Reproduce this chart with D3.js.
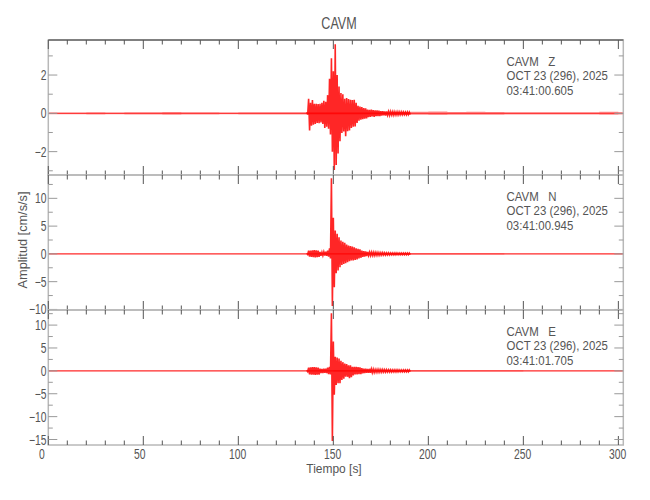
<!DOCTYPE html>
<html>
<head>
<meta charset="utf-8">
<script src="https://cdn.jsdelivr.net/npm/d3@7"></script>
<style>
body{margin:0;background:#fff;}
svg text{font-family:"Liberation Sans",Arial,sans-serif;fill:#555;white-space:pre;}
</style>
</head>
<body>
<svg id="chart" width="650" height="500"></svg>
<script>
var station = 'CAVM';
var components = ['Z', 'N', 'E'];
var dateLabel = 'OCT 23 (296), 2025';
var startTimes = ['03:41:00.605', '03:41:00.945', '03:41:01.705'];

var xMax = 302.6;
var xMajor = [0, 50, 100, 150, 200, 250, 300];
var yDomains = [[-3.22, 3.83], [-10.1, 14.2], [-16.2, 13.3]];
var yMajor = [[-2, 0, 2], [-10, -5, 0, 5, 10], [-15, -10, -5, 0, 5, 10]];
var yMinor = [[-3, -1, 1, 3], [-7.5, -2.5, 2.5, 7.5, 12.5], [-12.5, -7.5, -2.5, 2.5, 7.5, 12.5]];

// strong motion part: max / min of each second, starting at activeStart
var activeStart = 136;
var zHi = [0.06,0.76,0.55,0.70,0.50,0.50,0.48,0.50,0.55,0.66,0.60,0.95,1.80,2.88,2.20,3.61,2.00,1.40,1.06,1.00,
           0.76,0.80,0.75,0.71,0.70,0.71,0.55,0.40,0.36,0.33,0.28,0.26,0.20,0.18,0.20,0.17,0.16,0.15,0.14,0.12,
           0.11,0.10,0.10,0.09,0.09,0.08,0.08,0.07,0.08,0.07,0.07,0.07,0.06,0.07,0.06];
var zLo = [-0.06,-0.89,-0.65,-0.60,-0.55,-0.50,-0.52,-0.48,-0.55,-0.76,-0.70,-0.80,-1.10,-2.00,-2.96,-2.70,-2.10,-1.46,-1.02,-0.95,
           -1.20,-0.94,-0.90,-0.76,-0.70,-0.68,-0.50,-0.38,-0.33,-0.30,-0.28,-0.26,-0.20,-0.18,-0.16,-0.18,-0.15,-0.14,-0.15,-0.12,
           -0.10,-0.11,-0.09,-0.10,-0.08,-0.09,-0.08,-0.08,-0.07,-0.07,-0.07,-0.06,-0.07,-0.06,-0.06];
var nHi = [0.10,0.57,0.60,0.65,0.70,0.65,0.60,0.35,0.30,0.35,0.40,0.60,1.00,13.60,6.50,4.20,3.60,3.00,2.40,2.20,
           2.00,1.70,1.50,1.40,1.30,1.20,1.00,0.90,0.80,0.60,0.50,0.45,0.35,0.30,0.30,0.28,0.26,0.25,0.24,0.22,
           0.22,0.20,0.18,0.18,0.17,0.17,0.16,0.16,0.15,0.15,0.15,0.15,0.14,0.15,0.14];
var nLo = [-0.10,-0.50,-0.55,-0.60,-0.63,-0.60,-0.55,-0.35,-0.30,-0.30,-0.35,-0.50,-0.80,-9.40,-6.00,-3.50,-3.00,-2.40,-2.00,-1.80,
           -1.70,-1.50,-1.30,-1.20,-1.20,-1.10,-1.00,-0.80,-0.70,-0.55,-0.50,-0.40,-0.30,-0.30,-0.28,-0.28,-0.26,-0.25,-0.24,-0.22,
           -0.20,-0.20,-0.18,-0.17,-0.17,-0.16,-0.16,-0.15,-0.15,-0.15,-0.14,-0.15,-0.14,-0.14,-0.14];
var eHi = [0.15,0.70,0.75,0.80,0.80,0.75,0.70,0.50,0.45,0.50,0.50,0.70,0.90,12.60,6.40,3.10,2.90,2.70,2.20,1.90,
           1.60,1.50,1.20,1.20,0.90,0.90,0.85,0.80,0.75,0.60,0.50,0.50,0.45,0.45,0.40,0.35,0.30,0.30,0.30,0.28,
           0.28,0.27,0.26,0.25,0.25,0.22,0.22,0.21,0.21,0.20,0.20,0.20,0.20,0.19,0.19];
var eLo = [-0.15,-0.75,-0.80,-0.85,-0.90,-0.85,-0.80,-0.50,-0.50,-0.45,-0.50,-0.70,-0.80,-15.30,-5.20,-3.10,-2.70,-2.70,-2.00,-1.70,
           -1.25,-1.30,-1.60,-1.40,-1.00,-0.75,-0.75,-0.70,-0.70,-0.55,-0.50,-0.45,-0.45,-0.40,-0.40,-0.35,-0.30,-0.30,-0.28,-0.28,
           -0.27,-0.26,-0.25,-0.25,-0.24,-0.22,-0.22,-0.21,-0.20,-0.20,-0.20,-0.19,-0.20,-0.19,-0.19];

// background noise half width, one value per 10 s from 0 to 300 s
var zNoise = [0.05,0.05,0.06,0.05,0.06,0.06,0.07,0.06,0.06,0.05,0.06,0.06,0.06,0.06,0.06,0.06,
              0.06,0.06,0.07,0.08,0.09,0.07,0.08,0.07,0.06,0.06,0.06,0.06,0.06,0.08,0.06];
var nNoise = [0.12,0.12,0.12,0.12,0.12,0.12,0.12,0.12,0.12,0.12,0.12,0.12,0.12,0.12,0.12,0.12,
              0.12,0.15,0.15,0.15,0.15,0.15,0.15,0.14,0.13,0.13,0.12,0.12,0.12,0.12,0.12];
var eNoise = [0.15,0.15,0.15,0.15,0.15,0.15,0.15,0.15,0.15,0.15,0.15,0.15,0.15,0.15,0.15,0.18,
              0.18,0.20,0.20,0.20,0.20,0.20,0.18,0.18,0.17,0.16,0.16,0.16,0.15,0.15,0.15];

var traces = [
  {hi: zHi, lo: zLo, noise: zNoise},
  {hi: nHi, lo: nLo, noise: nNoise},
  {hi: eHi, lo: eLo, noise: eNoise}
];

var left = 48.3, right = 623.3, panelTop = 40, panelH = 135;
var svg = d3.select('#chart');
var xs = d3.scaleLinear().domain([0, xMax]).range([left, right]);
var xTicks = d3.range(0, 301, 10);

//narrow text: plot font is condensed, so squeeze horizontally
function label(parent, x, y, str, size, sx, anchor, rot){
  return parent.append('text')
    .attr('transform', 'translate(' + x + ',' + y + ')' + (rot ? ' rotate(' + rot + ')' : '') + ' scale(' + sx + ',1)')
    .attr('text-anchor', anchor || 'start')
    .style('font-size', size + 'px')
    .text(str);
}
function num(d){ return d < 0 ? '\u2212' + (-d) : '' + d; }

label(svg, 339, 29, station, 17, 0.74, 'middle');

traces.forEach(function(tr, p){
  var top = panelTop + p * panelH, bot = top + panelH;
  var ys = d3.scaleLinear().domain(yDomains[p]).range([bot, top]);
  var g = svg.append('g');

  g.append('clipPath').attr('id', 'clip' + p)
    .append('rect').attr('x', left).attr('y', top).attr('width', right - left).attr('height', panelH);

  var body = g.append('g').attr('clip-path', 'url(#clip' + p + ')');

  //quiet part drawn as a thin band
  var noisePts = tr.noise.map(function(a, i){ return [i * 10, a]; });
  noisePts.push([xMax, tr.noise[tr.noise.length - 1]]);
  body.append('path')
    .datum(noisePts)
    .attr('d', d3.area()
      .x(function(d){ return xs(d[0]); })
      .y0(function(d){ return ys(-d[1]); })
      .y1(function(d){ return ys(d[1]); })
      .curve(d3.curveStepAfter))
    .attr('fill', '#ff0000')
    .attr('fill-opacity', 0.45);
  body.append('line')
    .attr('x1', left).attr('x2', right)
    .attr('y1', ys(0)).attr('y2', ys(0))
    .attr('stroke', '#ff0000').attr('stroke-opacity', 0.7).attr('stroke-width', 1);

  var pts = [];
  tr.hi.forEach(function(h, i){
    pts.push([activeStart + i, h]);
    pts.push([activeStart + i + 0.5, tr.lo[i]]);
  });
  body.append('path')
    .datum(pts)
    .attr('d', d3.line()
      .x(function(d){ return xs(d[0]); })
      .y(function(d){ return ys(d[1]); }))
    .attr('fill', 'none')
    .attr('stroke', '#ff0000')
    .attr('stroke-opacity', 0.85)
    .attr('stroke-width', 1.6);

  // frame
  g.append('rect')
    .attr('x', left).attr('y', top).attr('width', right - left).attr('height', panelH)
    .attr('fill', 'none').attr('stroke', '#b8b8b8').attr('stroke-width', 1.5);
  if(p == 0){
    g.append('line').attr('x1', left).attr('x2', right).attr('y1', top).attr('y2', top)
      .attr('stroke', '#808080').attr('stroke-width', 2);
  }

  // x ticks, inward on top and bottom
  [top, bot].forEach(function(yy, k){
    var dir = k == 0 ? 1 : -1;
    g.selectAll(null).data(xTicks).enter().append('line')
      .attr('x1', function(d){ return xs(d); })
      .attr('x2', function(d){ return xs(d); })
      .attr('y1', yy)
      .attr('y2', function(d){ return yy + dir * (d % 50 == 0 ? 9 : 4.5); })
      .attr('stroke', '#555').attr('stroke-width', 1);
  });

  // y ticks, inward on left and right
  var yt = yMajor[p].map(function(v){ return [v, 9]; })
    .concat(yMinor[p].map(function(v){ return [v, 4.5]; }));
  [left, right].forEach(function(xx, k){
    var dir = k == 0 ? 1 : -1;
    g.selectAll(null).data(yt).enter().append('line')
      .attr('x1', xx)
      .attr('x2', function(d){ return xx + dir * d[1]; })
      .attr('y1', function(d){ return ys(d[0]); })
      .attr('y2', function(d){ return ys(d[0]); })
      .attr('stroke', '#9a9a9a').attr('stroke-width', 1);
  });

  yMajor[p].forEach(function(v){
    label(g, 46.5, ys(v) + 5, num(v), 14, 0.74, 'end');
  });

  var info = [station + '   ' + components[p], dateLabel, startTimes[p]];
  info.forEach(function(s, i){
    label(g, 506.5, top + 26 + i * 14.4, s, 13, 0.88);
  });

  if(p == 2){
    xMajor.forEach(function(v){
      label(g, xs(v) - 9.3, 459, num(v), 14, 0.74);
    });
  }
});

label(svg, 334, 473, 'Tiempo [s]', 13, 0.92, 'middle');
label(svg, 27, 240, 'Amplitud [cm/s/s]', 13, 0.98, 'middle', -90);
</script>
</body>
</html>
